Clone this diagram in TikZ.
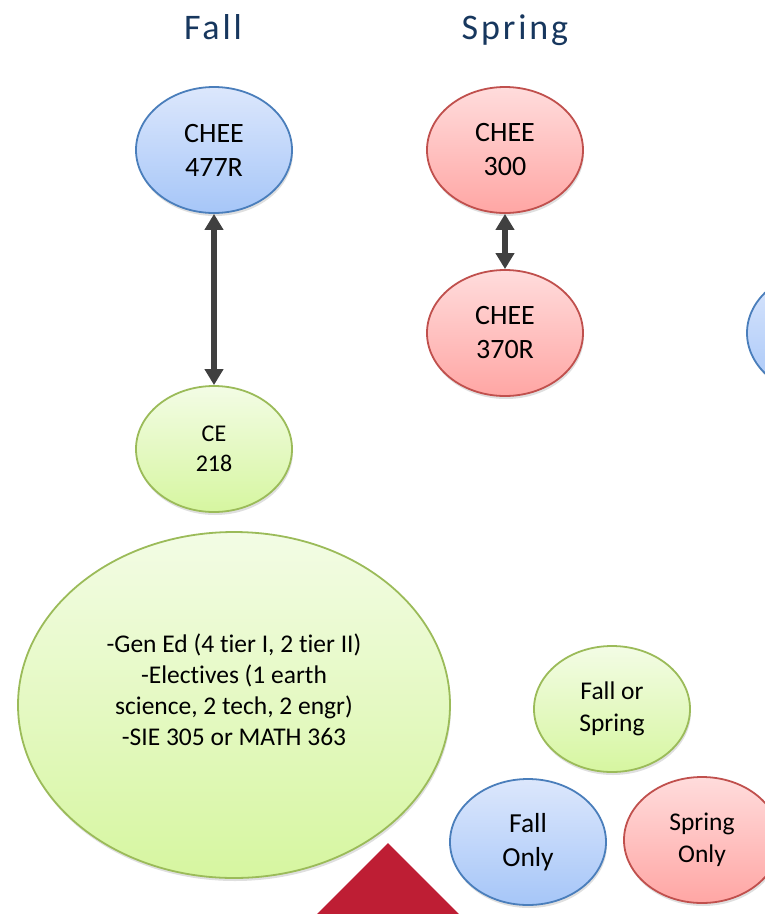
\documentclass[tikz,border=0pt]{standalone}
\usepackage{fontspec}
\setmainfont{Carlito}[Ligatures=NoCommon]
\usetikzlibrary{shapes.geometric,shadows,arrows.meta}

\definecolor{titleblue}{RGB}{23,55,94}
\definecolor{fallline}{RGB}{74,126,187}
\definecolor{falltop}{RGB}{220,231,252}
\definecolor{fallbot}{RGB}{166,198,248}
\definecolor{springline}{RGB}{192,80,77}
\definecolor{springtop}{RGB}{255,220,220}
\definecolor{springbot}{RGB}{255,166,164}
\definecolor{eitherline}{RGB}{155,187,89}
\definecolor{eithertop}{RGB}{243,252,229}
\definecolor{eitherbot}{RGB}{214,246,160}
\definecolor{arrowgray}{RGB}{64,64,64}
\definecolor{crimson}{RGB}{190,30,52}

\begin{document}
\begin{tikzpicture}[x=1pt,y=-1pt]
\tikzstyle{course}=[ellipse,draw,line width=1.8pt,minimum width=156pt,minimum height=126pt,
  inner sep=0pt,align=center,text=black,font=\fontsize{28}{34}\selectfont,
  drop shadow={opacity=0.25,shadow xshift=1pt,shadow yshift=-3pt}]
\tikzstyle{fallc}=[course,draw=fallline,top color=falltop,bottom color=fallbot]
\tikzstyle{springc}=[course,draw=springline,top color=springtop,bottom color=springbot]
\tikzstyle{eitherc}=[course,draw=eitherline,top color=eithertop,bottom color=eitherbot]
\tikzstyle{term}=[text=titleblue,anchor=base,inner sep=0pt,
  font=\fontsize{36}{43}\selectfont\addfontfeatures{LetterSpace=8}]
\tikzstyle{prereq}=[draw=arrowgray,line width=6.5pt,
  {Triangle[width=18pt,length=16pt]}-{Triangle[width=18pt,length=16pt]}]

\useasboundingbox (0,0) rectangle (765,914);
\clip (0,0) rectangle (765,914);

%% Semester headings
\node[term] (falltitle) at (213,39) {Fall};
\node[term] (springtitle) at (515,39) {Spring};

%% Course bubbles
\node[fallc] (chee477) at (214,150) {CHEE\\477R};
\node[eitherc,font=\fontsize{24}{30}\selectfont] (ce218) at (214,449) {CE\\218};
\node[springc] (chee300) at (505,150) {CHEE\\300};
\node[springc] (chee370) at (505,333) {CHEE\\370R};
\node[fallc] (nextfall) at (825,333) {};

% other requirements
\node[eitherc,minimum width=432pt,minimum height=346pt,font=\fontsize{25.5}{31}\selectfont]
  (genreq) at (234,705)
  {-Gen Ed (4 tier I, 2 tier II)\\-Electives (1 earth\\science, 2 tech, 2 engr)\\
   -SIE 305 or MATH 363\\\mbox{}};

%% Links
\draw[prereq] (chee477) -- (ce218);
\draw[prereq] (chee300) -- (chee370);

%% Key
\node[eitherc,font=\fontsize{25.5}{32}\selectfont] (legboth) at (612,709) {Fall or\\Spring};
\node[fallc,font=\fontsize{27.5}{34}\selectfont] (legfall) at (528,842) {Fall\\Only};
\node[springc,font=\fontsize{25.5}{32}\selectfont] (legspring) at (702,840) {Spring\\Only};

%% Marker at bottom
\fill[crimson] (388,843) -- (468,923) -- (308,923) -- cycle;

\end{tikzpicture}
\end{document}
